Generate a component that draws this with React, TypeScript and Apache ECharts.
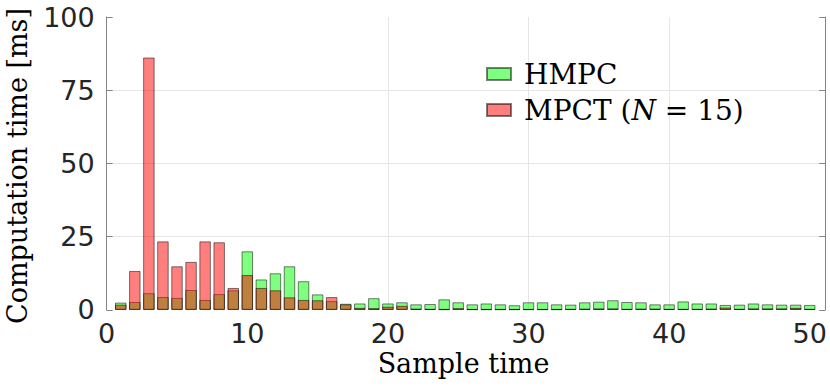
import React, { useEffect, useRef } from "react";
import * as echarts from "echarts";

const sampleTimes: number[] = Array.from({ length: 50 }, (_, i) => i + 1);

const hmpcValues: number[] = [
  2.5, 2.7, 5.7, 4.4, 4.1, 6.8, 3.4, 5.4, 6.7, 20.0,
  10.4, 12.5, 14.9, 9.8, 5.3, 3.0, 2.1, 2.2, 4.0, 2.2,
  2.6, 1.9, 2.0, 3.6, 2.6, 1.9, 2.2, 1.9, 1.6, 2.6,
  2.6, 1.9, 1.8, 2.6, 2.8, 3.3, 2.7, 2.6, 1.9, 1.9,
  2.9, 2.2, 2.2, 1.7, 1.8, 2.2, 1.9, 1.8, 1.8, 1.7,
];

const mpctValues: number[] = [
  1.8, 13.3, 86.2, 23.4, 14.9, 16.4, 23.4, 23.1, 7.5, 11.9,
  7.5, 6.7, 4.3, 3.4, 3.3, 4.4, 1.9, 0.7, 0.6, 1.1,
  1.4, 0.4, 0.3, 0.2, 0.6, 0.2, 0.2, 0.2, 0.2, 0.2,
  0.2, 0.2, 0.3, 0.4, 0.5, 0.5, 0.3, 0.4, 0.4, 0.3,
  0.3, 0.3, 0.4, 0.8, 0.3, 0.5, 0.5, 0.5, 0.7, 0.3,
];

const seriesNames: string[] = ["HMPC", "MPCT"];
const yTicks: number[] = [0, 25, 50, 75, 100];
const xTicks: number[] = [0, 10, 20, 30, 40, 50];

const GRID_COLOR = "#e6e6e6";
const AXIS_COLOR = "#858585";
const TICK_TEXT = "#262626";

export default function App() {
  const ref = useRef<HTMLDivElement>(null);

  useEffect(() => {
    if (!ref.current) return;
    const chart = echarts.init(ref.current, undefined, { renderer: "svg" });

    const xSplitColors = [
      "transparent", "transparent", GRID_COLOR, GRID_COLOR, GRID_COLOR, "transparent", "transparent",
    ];
    const ySplitColors = ["transparent", GRID_COLOR, GRID_COLOR, GRID_COLOR, "transparent"];

    chart.setOption({
      animation: false,
      backgroundColor: "#ffffff",
      grid: { left: 106.7, right: 4.8, top: 17.1, bottom: 81.1, containLabel: false },
      xAxis: {
        type: "value",
        min: xTicks[0],
        max: 51.1,
        interval: 10,
        axisLine: { show: false },
        axisTick: { show: false },
        axisLabel: {
          fontFamily: "DejaVu Sans",
          fontSize: 27,
          color: TICK_TEXT,
          margin: 10,
          showMaxLabel: false,
          formatter: (v: number) => (xTicks.includes(v) ? String(v) : ""),
        },
        splitLine: { show: true, lineStyle: { color: xSplitColors, width: 1 } },
      },
      yAxis: [
        {
          type: "value",
          min: yTicks[0],
          max: yTicks[yTicks.length - 1],
          interval: 25,
          offset: 2,
          axisLine: { show: true, lineStyle: { color: AXIS_COLOR, width: 1 } },
          axisTick: { show: true, inside: true, length: 6, lineStyle: { color: AXIS_COLOR } },
          axisLabel: {
            fontFamily: "DejaVu Sans",
            fontSize: 27,
            color: TICK_TEXT,
            margin: 10,
          },
          splitLine: { show: true, lineStyle: { color: ySplitColors, width: 1 } },
        },
        {
          type: "value",
          position: "right",
          min: yTicks[0],
          max: yTicks[yTicks.length - 1],
          interval: 25,
          axisLine: { show: true, lineStyle: { color: AXIS_COLOR, width: 1 } },
          axisTick: { show: true, inside: true, length: 6, lineStyle: { color: AXIS_COLOR } },
          axisLabel: { show: false },
          splitLine: { show: false },
        },
      ],
      legend: {
        orient: "vertical",
        left: 486,
        top: 60,
        padding: 0,
        itemWidth: 24,
        itemHeight: 12,
        itemGap: 8,
        icon: "rect",
        data: seriesNames,
        formatter: (name: string) =>
          name === "MPCT" ? "{t|MPCT (}{i|N}{t| = 15)}" : "{t|" + name + "}",
        textStyle: {
          color: "#000000",
          rich: {
            t: { fontFamily: "DejaVu Serif", fontSize: 28, lineHeight: 28, color: "#000" },
            i: { fontFamily: "DejaVu Serif", fontSize: 28, lineHeight: 28, color: "#000", fontStyle: "italic" },
          },
          padding: [0, 0, 0, 8],
        },
      },
      graphic: [
        {
          type: "text",
          x: 17.4,
          y: 166,
          rotation: Math.PI / 2,
          style: {
            text: "Computation time [ms]",
            font: "27px 'DejaVu Serif'",
            fill: "#000",
            textAlign: "center",
            textVerticalAlign: "middle",
          },
        },
        {
          type: "text",
          x: 463.5,
          y: 363,
          style: {
            text: "Sample time",
            font: "27px 'DejaVu Serif'",
            fill: "#000",
            textAlign: "center",
            textVerticalAlign: "middle",
          },
        },
      ],
      series: [
        {
          name: seriesNames[0],
          type: "bar",
          yAxisIndex: 0,
          barWidth: 11.5,
          barGap: "-100%",
          data: sampleTimes.map((t, i) => [t, hmpcValues[i]]),
          itemStyle: { color: "rgba(0,255,0,0.5)", borderColor: "rgba(0,0,0,0.5)", borderWidth: 1 },
        },
        {
          name: seriesNames[1],
          type: "bar",
          yAxisIndex: 0,
          barWidth: 11.5,
          barGap: "-100%",
          data: sampleTimes.map((t, i) => [t, mpctValues[i]]),
          itemStyle: { color: "rgba(255,0,0,0.5)", borderColor: "rgba(0,0,0,0.5)", borderWidth: 1 },
        },
      ],
    });

    return () => chart.dispose();
  }, []);

  return (
    <div
      ref={ref}
      style={{ position: "fixed", left: 0, top: 0, width: 830, height: 391, background: "#fff" }}
    />
  );
}
